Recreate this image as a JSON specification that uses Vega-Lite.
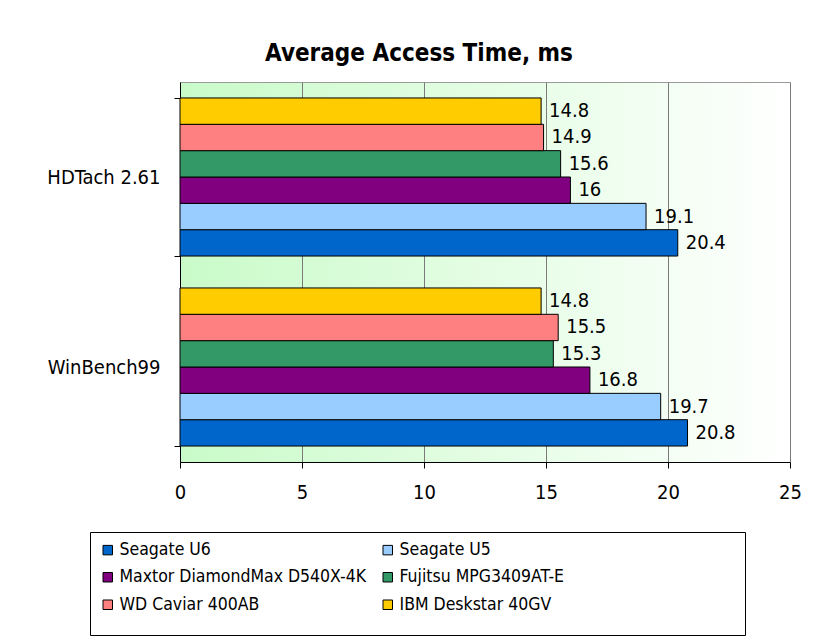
{
  "$schema": "https://vega.github.io/schema/vega-lite/v6.json",
  "width": 610,
  "height": 380,
  "autosize": {"type": "none"},
  "padding": {"left": 180, "top": 82, "right": 38, "bottom": 180},
  "background": "white",
  "title": {
    "text": "Average Access Time, ms",
    "font": "DejaVu Sans Condensed",
    "fontWeight": "bold",
    "fontSize": 24,
    "color": "black",
    "anchor": "middle",
    "frame": "group",
    "dx": -66,
    "offset": 6
  },
  "data": {
    "values": [
      {"test": "HDTach 2.61", "drive": "Seagate U6", "time": 20.4},
      {"test": "HDTach 2.61", "drive": "Seagate U5", "time": 19.1},
      {"test": "HDTach 2.61", "drive": "Maxtor DiamondMax D540X-4K", "time": 16},
      {"test": "HDTach 2.61", "drive": "Fujitsu MPG3409AT-E", "time": 15.6},
      {"test": "HDTach 2.61", "drive": "WD Caviar 400AB", "time": 14.9},
      {"test": "HDTach 2.61", "drive": "IBM Deskstar 40GV", "time": 14.8},
      {"test": "WinBench99", "drive": "Seagate U6", "time": 20.8},
      {"test": "WinBench99", "drive": "Seagate U5", "time": 19.7},
      {"test": "WinBench99", "drive": "Maxtor DiamondMax D540X-4K", "time": 16.8},
      {"test": "WinBench99", "drive": "Fujitsu MPG3409AT-E", "time": 15.3},
      {"test": "WinBench99", "drive": "WD Caviar 400AB", "time": 15.5},
      {"test": "WinBench99", "drive": "IBM Deskstar 40GV", "time": 14.8}
    ]
  },
  "encoding": {
    "y": {
      "field": "test",
      "type": "nominal",
      "sort": ["HDTach 2.61", "WinBench99"],
      "scale": {"paddingInner": 0.168, "paddingOuter": 0.084},
      "axis": {
        "title": null,
        "tickBand": "extent",
        "tickColor": "black",
        "tickSize": 6,
        "domainColor": "black",
        "labelFont": "DejaVu Sans Condensed",
        "labelFontSize": 20,
        "labelColor": "black",
        "labelPadding": 14,
        "grid": false
      }
    },
    "yOffset": {
      "field": "drive",
      "type": "nominal",
      "scale": {
        "domain": ["IBM Deskstar 40GV", "WD Caviar 400AB", "Fujitsu MPG3409AT-E", "Maxtor DiamondMax D540X-4K", "Seagate U5", "Seagate U6"],
        "paddingInner": 0,
        "paddingOuter": 0
      }
    },
    "x": {
      "field": "time",
      "type": "quantitative",
      "scale": {"domain": [0, 25], "nice": false},
      "axis": {
        "title": null,
        "values": [0, 5, 10, 15, 20, 25],
        "grid": true,
        "gridColor": "#7a7a7a",
        "gridWidth": 1,
        "domainColor": "black",
        "tickColor": "black",
        "tickSize": 6,
        "labelFont": "DejaVu Sans Condensed",
        "labelFontSize": 20,
        "labelColor": "black",
        "labelPadding": 14,
        "labelFlush": false
      }
    }
  },
  "layer": [
    {
      "mark": {"type": "bar", "stroke": "black", "strokeWidth": 1},
      "encoding": {
        "color": {
          "field": "drive",
          "type": "nominal",
          "scale": {
            "domain": ["Seagate U6", "Maxtor DiamondMax D540X-4K", "WD Caviar 400AB", "Seagate U5", "Fujitsu MPG3409AT-E", "IBM Deskstar 40GV"],
            "range": ["#0066CC", "#800080", "#FF8080", "#99CCFF", "#339966", "#FFCC00"]
          },
          "legend": {
            "orient": "none",
            "legendX": -90,
            "legendY": 450,
            "columns": 2,
            "symbolType": "square",
            "symbolSize": 90,
            "symbolStrokeColor": "black",
            "symbolStrokeWidth": 1,
            "symbolOpacity": 1,
            "labelFont": "DejaVu Sans Condensed",
            "labelFontSize": 17.5,
            "labelColor": "black",
            "labelLimit": 400,
            "labelOffset": 3,
            "columnPadding": 12,
            "rowPadding": 8.5,
            "strokeColor": "black",
            "fillColor": "white",
            "padding": 9,
            "title": "\u2800\u2800\u2800\u2800\u2800\u2800\u2800\u2800\u2800\u2800\u2800\u2800\u2800\u2800\u2800\u2800\u2800\u2800\u2800\u2800\u2800\u2800\u2800\u2800\u2800\u2800\u2800\u2800\u2800\u2800\u2800\u2800\u2800\u2800\u2800\u2800\u2800\u2800\u2800\u2800\u2800\u2800\u2800\u2800\u2800\u2800\u2800\u2800\u2800\u2800\u2800\u2800\u2800\u2800\u2800\u2800\u2800\u2800\u2800\u2800\u2800\u2800\u2800\u2800\u2800\u2800\u2800\u2800\u2800\u2800\u2800\u2800\u2800\u2800\u2800\u2800\u2800\u2800\u2800\u2800\u2800\u2800\u2800\u2800\u2800\u2800\u2800\u2800\u2800\u2800\u2800\u2800\u2800\u2800\u2800\u2800\u2800\u2800\u2800\u2800\u2800\u2800\u2800\u2800\u2800\u2800",
            "titleOrient": "bottom",
            "titleFont": "DejaVu Sans Mono",
            "titleFontSize": 10,
            "titlePadding": 3,
            "titleLimit": 641,
            "titleOpacity": 0
          }
        }
      }
    },
    {
      "mark": {"type": "text", "align": "left", "baseline": "middle", "dx": 8, "font": "DejaVu Sans Condensed", "fontSize": 20, "color": "black"},
      "encoding": {
        "text": {"field": "time", "type": "quantitative"}
      }
    }
  ],
  "config": {
    "view": {
      "stroke": "#9a9a9a",
      "fill": {
        "gradient": "linear",
        "x1": 0, "y1": 0, "x2": 1, "y2": 0,
        "stops": [
          {"offset": 0, "color": "#c9fbc9"},
          {"offset": 1, "color": "#ffffff"}
        ]
      }
    }
  }
}
